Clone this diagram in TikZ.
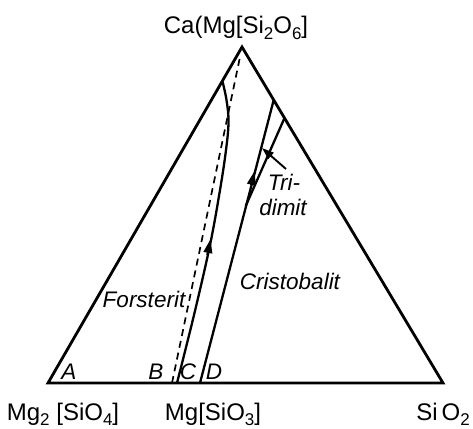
\documentclass[tikz,border=0pt]{standalone}
\usepackage{fontspec}
\setmainfont{Liberation Sans}
\usetikzlibrary{arrows.meta}
\newcommand\sbx[1]{\raisebox{-0.45ex}{\fontsize{17}{17}\selectfont #1}}
\begin{document}
\begin{tikzpicture}[x=1pt,y=-1pt,
  edge/.style={line width=2.8pt, line join=miter},
  bound/.style={line width=2.3pt},
  joinline/.style={line width=1.7pt, dash pattern=on 7pt off 5pt},
  lab/.style={font=\fontsize{24}{26}\selectfont, inner sep=0pt, anchor=base},
  fld/.style={font=\fontsize{22.5}{24}\selectfont\itshape, inner sep=0pt},
  ptr/.style={line width=1.9pt, -{Triangle[length=12pt,width=8pt]}},
  upar/.style={-{Triangle[length=14pt,width=8.5pt]}, line width=2.3pt}
]
\useasboundingbox (0,0) rectangle (473,428);
\coordinate (top) at (242,47);
\coordinate (L) at (48,383);
\coordinate (R) at (443,383);
\draw[edge] (L) -- (top) -- (R) -- cycle;
% join line (dashed)
\coordinate (b0) at (172,383);
\coordinate (b1) at (240,57);
\draw[joinline] (b0) -- (b1);
% C boundary
\draw[bound] plot[smooth, tension=0.6] coordinates {(177,383) (194,315) (210,245) (220,190) (226,150) (228.5,122) (226.5,100) (222.4,81)};
\coordinate (ca0) at (207.4,255);
\coordinate (ca1) at (210.6,239);
\draw[upar] (ca0) -- (ca1);
% D boundary
\coordinate (d0) at (200,383);
\coordinate (d1) at (273.7,100);
\draw[bound] (d0) -- (d1);
\coordinate (da0) at (251.3,185);
\coordinate (da1) at (254.6,171);
\draw[upar] (da0) -- (da1);
% tridymite boundary
\coordinate (t0) at (284.5,118);
\coordinate (t1) at (245.7,206);
\draw[bound] (t0) -- (t1);
% labels
\node[lab] (top label) at (236,34) {Ca(Mg[Si\sbx{2}O\sbx{6}]};
\node[lab] (forst) at (63,420) {Mg\sbx{2} [SiO\sbx{4}]};
\node[lab] (enst) at (213,420) {Mg[SiO\sbx{3}]};
\node[lab] (sil) at (443,420) {Si\,O\sbx{2}};
\node[fld] (nA) at (69,372) {A};
\node[fld] (nB) at (156,372) {B};
\node[fld] (nC) at (188,372) {C};
\node[fld] (nD) at (214,372) {D};
\node[fld] (fo) at (144,299) {Forsterit};
\node[fld] (cr) at (290,281) {Cristobalit};
\node[fld] (tr1) at (284,182) {Tri-};
\node[fld] (tr2) at (283,207) {dimit};
\coordinate (ps) at (286,169);
\coordinate (pt) at (262,148);
\draw[ptr] (ps) -- (pt);
\end{tikzpicture}
\end{document}
